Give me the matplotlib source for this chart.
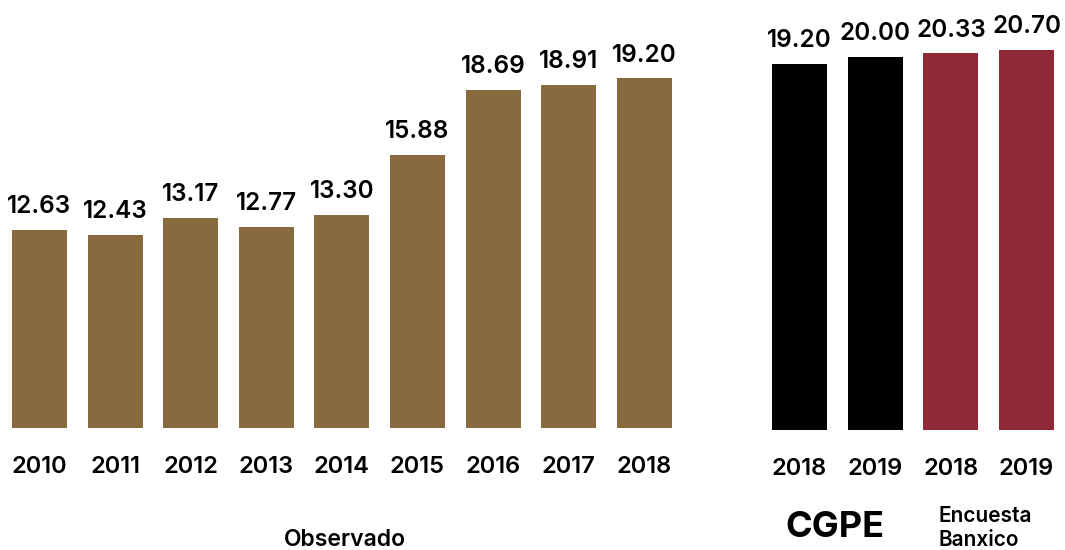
import matplotlib
matplotlib.use("Agg")
import matplotlib.pyplot as plt

# Observed values
obs_years = ["2010", "2011", "2012", "2013", "2014", "2015", "2016", "2017", "2018"]
obs_values = [12.63, 12.43, 13.17, 12.77, 13.30, 15.88, 18.69, 18.91, 19.20]

# Forecasts
fc_years = ["2018", "2019", "2018", "2019"]
fc_values = [19.20, 20.00, 20.33, 20.70]
fc_sources = ["CGPE", "CGPE", "Banxico", "Banxico"]

BROWN = "#896a3f"
BLACK = "#000000"
RED = "#8e2935"
FONT = ["Inter", "DejaVu Sans"]

W, H = 1065, 550
fig = plt.figure(figsize=(W / 100, H / 100), dpi=100)


def px_axes(x0, x1, ytop, ybot):
    return fig.add_axes([x0 / W, (H - ybot) / H, (x1 - x0) / W, (ybot - ytop) / H])


def style(ax):
    for s in ax.spines.values():
        s.set_visible(False)
    ax.set_yticks([])
    ax.tick_params(axis="x", length=0, pad=20)
    for lab in ax.get_xticklabels():
        lab.set_family(FONT)
        lab.set_fontsize(17)
        lab.set_fontweight("semibold")


def labels(ax, xs, vals):
    for x, v in zip(xs, vals):
        ax.annotate(f"{v:.2f}", (x, v), xytext=(0, 12), textcoords="offset points",
                    ha="center", va="baseline", family=FONT, fontsize=17.5,
                    fontweight="semibold", color="black")


# Left panel: observed
ax1 = px_axes(0, 700, 20, 428)
lo1 = 4.06
x1 = list(range(len(obs_values)))
ax1.bar(x1, [v - lo1 for v in obs_values], bottom=lo1, width=0.727, color=BROWN)
ax1.set_xlim(-0.5225, 8.737)
ax1.set_ylim(lo1, lo1 + 408 / 23.1)
ax1.set_xticks(x1, obs_years)
style(ax1)
labels(ax1, x1, obs_values)

# Right panel: forecasts
ax2 = px_axes(740, 1065, 20, 430)
lo2 = -20.03
x2 = list(range(len(fc_values)))
colors = [BLACK if s == "CGPE" else RED for s in fc_sources]
ax2.bar(x2, [v - lo2 for v in fc_values], bottom=lo2, width=0.727, color=colors)
ax2.set_xlim(-0.786, 3.507)
ax2.set_ylim(lo2, lo2 + 410 / 9.33)
ax2.set_xticks(x2, fc_years)
style(ax2)
labels(ax2, x2, fc_values)

# Group captions
fig.text(345 / W, (H - 546) / H, "Observado", ha="center", va="baseline",
         family=FONT, fontsize=16.5, fontweight="semibold")
fig.text(835 / W, (H - 537) / H, "CGPE", ha="center", va="baseline",
         family=FONT, fontsize=26, fontweight="bold")
fig.text(939 / W, (H - 522) / H, "Encuesta", ha="left", va="baseline",
         family=FONT, fontsize=15, fontweight="semibold")
fig.text(939 / W, (H - 546) / H, "Banxico", ha="left", va="baseline",
         family=FONT, fontsize=15, fontweight="semibold")

fig.savefig("out.png", dpi=100, facecolor="white")
